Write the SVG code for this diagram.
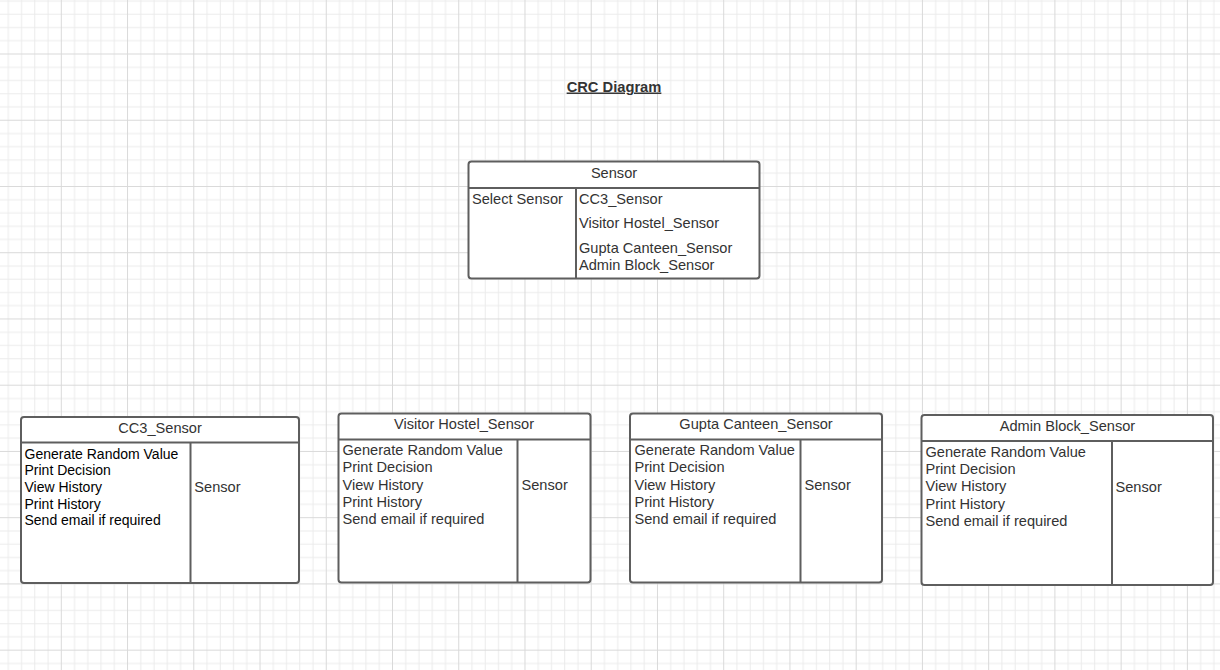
<svg xmlns="http://www.w3.org/2000/svg" width="1220" height="670" viewBox="0 0 1220 670">
<style>
.box{fill:#ffffff;stroke:#5e5e5e;stroke-width:2}
.ln{stroke:#5e5e5e;stroke-width:2;fill:none}
.t{font-family:"Liberation Sans",Arial,sans-serif;font-size:14.6px;fill:#333333}
.c{text-anchor:middle}
.k{fill:#000000;font-size:14px}
.title{font-family:"Liberation Sans",Arial,sans-serif;font-size:14.7px;font-weight:bold;fill:#333333;text-decoration:underline;text-anchor:middle}
</style>
<defs>
<pattern id="grid" patternUnits="userSpaceOnUse" x="28.18" y="20.88" width="66.24" height="66.24">
<path d="M6.62 0V66.24M19.87 0V66.24M46.37 0V66.24M59.62 0V66.24M0 6.62H66.24M0 19.87H66.24M0 46.37H66.24M0 59.62H66.24" stroke="#ebebeb" stroke-width="1" fill="none"/>
<path d="M33.12 0V66.24M0 33.12H66.24" stroke="#d9d9d9" stroke-width="1" fill="none"/>
</pattern>
</defs>
<rect width="1220" height="670" fill="#ffffff"/>
<rect width="1220" height="670" fill="url(#grid)"/>
<text class="title" x="614" y="91.5">CRC Diagram</text>
<g id="connectors"/>
<g id="sensor">
<rect class="box" x="468.5" y="161.5" width="291" height="117" rx="3"/>
<path class="ln" d="M468.5 188H759.5M576 188V278.5"/>
<text class="t c" x="614" y="178">Sensor</text>
<text class="t" x="472" y="203.5">Select Sensor</text>
<text class="t" x="579" y="203.5">CC3_Sensor</text>
<text class="t" x="579" y="228">Visitor Hostel_Sensor</text>
<text class="t" x="579" y="252.8">Gupta Canteen_Sensor</text>
<text class="t" x="579" y="269.5">Admin Block_Sensor</text>
</g>
<g id="cc3_sensor">
<rect class="box" x="21" y="417" width="278" height="166" rx="3"/>
<path class="ln" d="M21 442.5H299M190.5 442.5V583"/>
<text class="t c" x="160" y="432.8">CC3_Sensor</text>
<text class="t k" x="24.5" y="458.5">Generate Random Value</text>
<text class="t k" x="24.5" y="475">Print Decision</text>
<text class="t k" x="24.5" y="491.8">View History</text>
<text class="t k" x="24.5" y="508.5">Print History</text>
<text class="t k" x="24.5" y="525">Send email if required</text>
<text class="t" x="194.3" y="491.8">Sensor</text>
</g>
<g id="visitor_hostel_sensor">
<rect class="box" x="338.5" y="413.5" width="252" height="169" rx="3"/>
<path class="ln" d="M338.5 439.5H590.5M517.5 439.5V582.5"/>
<text class="t c" x="464" y="429">Visitor Hostel_Sensor</text>
<text class="t" x="342.5" y="454.5">Generate Random Value</text>
<text class="t" x="342.5" y="471.5">Print Decision</text>
<text class="t" x="342.5" y="489.5">View History</text>
<text class="t" x="342.5" y="507">Print History</text>
<text class="t" x="342.5" y="524.3">Send email if required</text>
<text class="t" x="521.5" y="489.5">Sensor</text>
</g>
<g id="gupta_canteen_sensor">
<rect class="box" x="630" y="413.5" width="252" height="169" rx="3"/>
<path class="ln" d="M630 439.5H882M800.5 439.5V582.5"/>
<text class="t c" x="756" y="429">Gupta Canteen_Sensor</text>
<text class="t" x="634.5" y="454.5">Generate Random Value</text>
<text class="t" x="634.5" y="471.5">Print Decision</text>
<text class="t" x="634.5" y="489.5">View History</text>
<text class="t" x="634.5" y="507">Print History</text>
<text class="t" x="634.5" y="524.3">Send email if required</text>
<text class="t" x="804.5" y="489.5">Sensor</text>
</g>
<g id="admin_block_sensor">
<rect class="box" x="921.5" y="415" width="291.5" height="170" rx="3"/>
<path class="ln" d="M921.5 441H1213M1112 441V585"/>
<text class="t c" x="1067.5" y="431">Admin Block_Sensor</text>
<text class="t" x="925.5" y="456.5">Generate Random Value</text>
<text class="t" x="925.5" y="473.5">Print Decision</text>
<text class="t" x="925.5" y="491.3">View History</text>
<text class="t" x="925.5" y="509">Print History</text>
<text class="t" x="925.5" y="526.3">Send email if required</text>
<text class="t" x="1115.5" y="491.8">Sensor</text>
</g>
</svg>
